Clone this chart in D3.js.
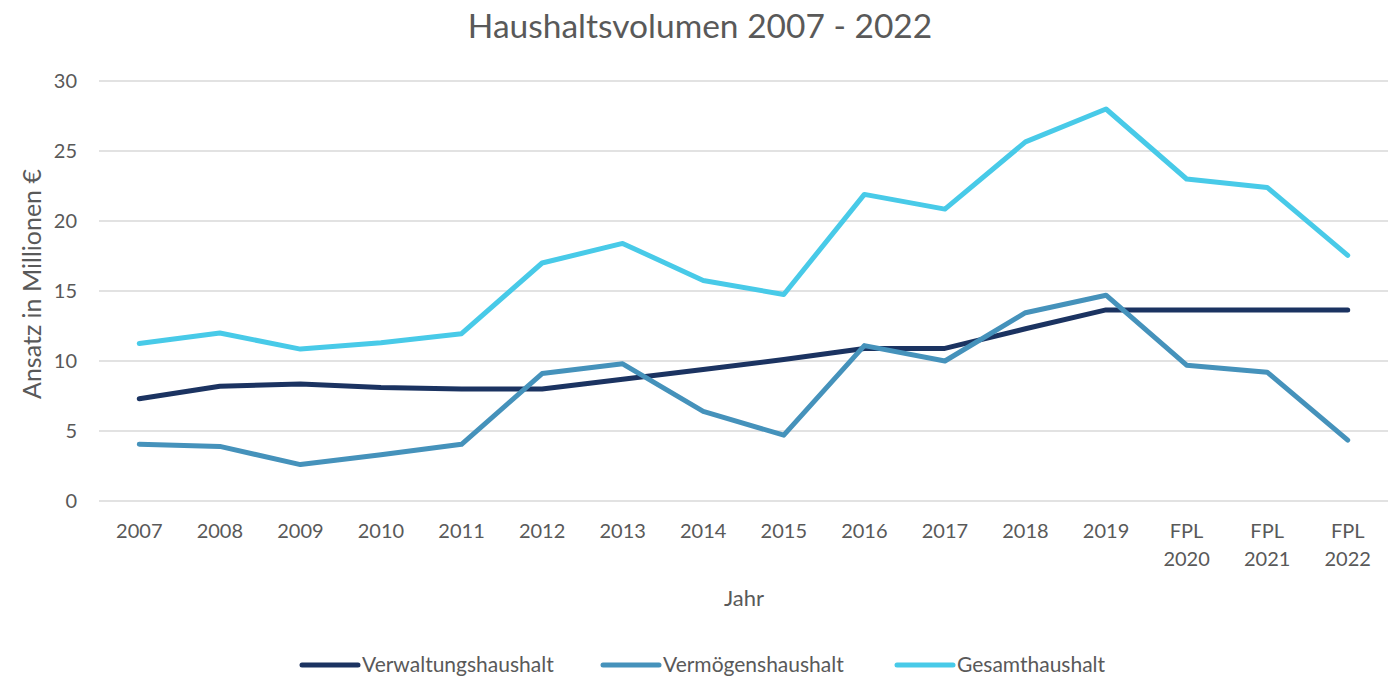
<!doctype html>
<html lang="de">
<head>
<meta charset="utf-8">
<title>Haushaltsvolumen 2007 - 2022</title>
<script src="https://cdn.jsdelivr.net/npm/d3@7"></script>
<style>
  body { margin: 0; background: #fff; }
  text { font-family: Lato, "Open Sans", sans-serif; fill: #595959; }
</style>
</head>
<body>
<script>
var years = ["2007","2008","2009","2010","2011","2012","2013","2014","2015","2016","2017","2018","2019","FPL 2020","FPL 2021","FPL 2022"];
var verwaltung = [7.3, 8.2, 8.35, 8.1, 8.0, 8.0, 8.7, 9.4, 10.1, 10.9, 10.9, 12.3, 13.65, 13.65, 13.65, 13.65];
var vermoegen = [4.05, 3.9, 2.6, 3.3, 4.05, 9.1, 9.8, 6.4, 4.7, 11.1, 10.0, 13.45, 14.7, 9.7, 9.2, 4.35];
var gesamt = [11.25, 12.0, 10.85, 11.3, 11.95, 17.0, 18.4, 15.75, 14.75, 21.9, 20.85, 25.65, 28.0, 23.0, 22.4, 17.55];
var yTicks = [0, 5, 10, 15, 20, 25, 30];

var series = [
    {name: "Verwaltungshaushalt", values: verwaltung, color: "#1b3361"},
    {name: "Vermögenshaushalt", values: vermoegen, color: "#4592bb"},
    {name: "Gesamthaushalt", values: gesamt, color: "#48cae8"}
];

var W = 1391, H = 678;
var margin = {top: 81, right: 3, bottom: 177, left: 99};
var w = W - margin.left - margin.right;
var h = H - margin.top - margin.bottom;

var svg = d3.select("body").append("svg")
            .attr("width", W)
            .attr("height", H);

var x = d3.scaleBand().domain(years).range([0, w]);
var y = d3.scaleLinear().domain([0, 30]).range([h, 0]);

var g = svg.append("g")
           .attr("transform", "translate(" + margin.left + "," + margin.top + ")");

// gridlines
g.selectAll("line.grid")
 .data(yTicks)
 .enter()
 .append("line")
 .attr("class", "grid")
 .attr("x1", 0)
 .attr("x2", w)
 .attr("y1", d => y(d))
 .attr("y2", d => y(d))
 .style("stroke", "#d9d9d9")
 .style("stroke-width", 1.5);

// y axis
var yAxis = g.append("g")
             .call(d3.axisLeft(y).tickValues(yTicks).tickSize(0).tickPadding(22));
yAxis.select(".domain").remove();
yAxis.selectAll("text")
     .style("font-size", "20px")
     .style("fill", "#595959");

// x axis
var xAxis = g.append("g")
             .attr("transform", "translate(0," + h + ")")
             .call(d3.axisBottom(x).tickSize(0).tickPadding(0));
xAxis.select(".domain").remove();
xAxis.selectAll("text").remove();
xAxis.selectAll(".tick")
     .append("text")
     .attr("text-anchor", "middle")
     .style("font-size", "20px")
     .style("fill", "#595959")
     .each(function(d) {
         var parts = d.split(" ");
         var t = d3.select(this);
         parts.forEach(function(p, i) {
             t.append("tspan")
              .attr("x", 0)
              .attr("y", 37 + i * 28)
              .text(p);
         });
     });

// lines
var line = d3.line()
             .x((d, i) => x(years[i]) + x.bandwidth() / 2)
             .y(d => y(d));

g.selectAll("path.series")
 .data(series)
 .enter()
 .append("path")
 .attr("class", "series")
 .attr("d", d => line(d.values))
 .style("fill", "none")
 .style("stroke", d => d.color)
 .style("stroke-width", 5)
 .style("stroke-linejoin", "round")
 .style("stroke-linecap", "round");

// title
svg.append("text")
   .attr("x", 700)
   .attr("y", 38)
   .attr("text-anchor", "middle")
   .style("font-size", "33.5px")
   .text("Haushaltsvolumen 2007 - 2022");

// axis titles
svg.append("text")
   .attr("x", 744)
   .attr("y", 606)
   .attr("text-anchor", "middle")
   .style("font-size", "22px")
   .text("Jahr");

svg.append("text")
   .attr("transform", "translate(41,284) rotate(-90)")
   .attr("text-anchor", "middle")
   .style("font-size", "25px")
   .text("Ansatz in Millionen €");

// legend
var legendX = [302, 603, 897];
var legend = svg.selectAll("g.legend")
                .data(series)
                .enter()
                .append("g")
                .attr("class", "legend")
                .attr("transform", (d, i) => "translate(" + legendX[i] + ",665)");
legend.append("line")
      .attr("x1", 0)
      .attr("x2", 56)
      .style("stroke", d => d.color)
      .style("stroke-width", 5)
      .style("stroke-linecap", "round");
legend.append("text")
      .attr("x", 60)
      .attr("y", 7)
      .style("font-size", "21px")
      .text(d => d.name);
</script>
</body>
</html>
